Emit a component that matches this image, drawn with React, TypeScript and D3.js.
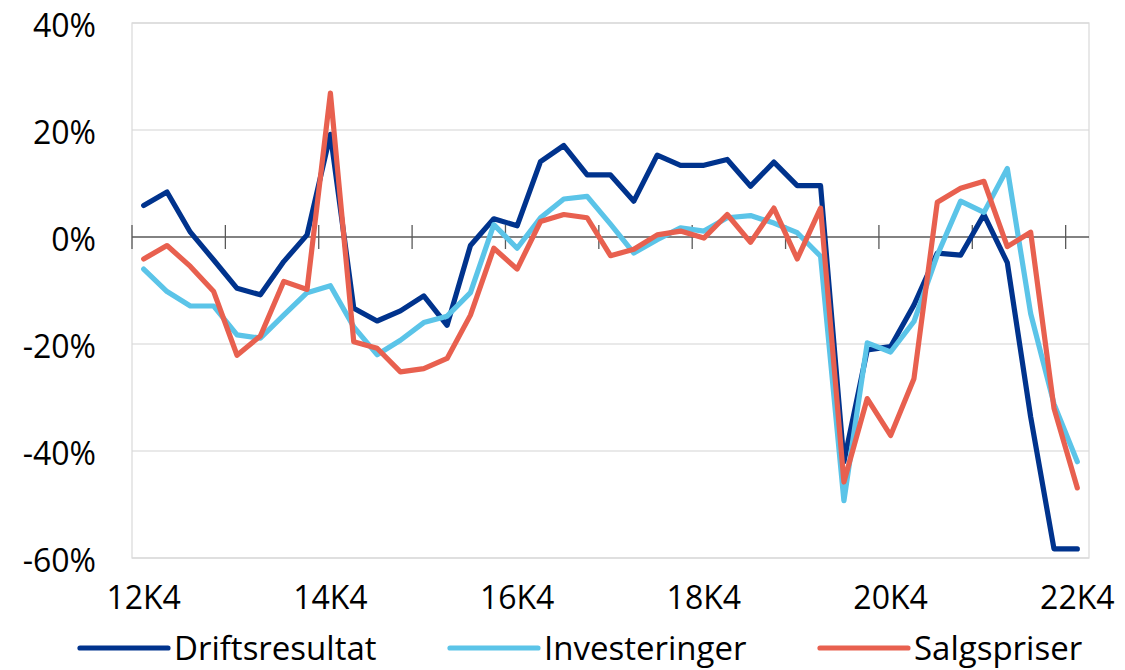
import React, { useEffect, useRef } from "react";
import * as d3 from "d3";

const quarters: string[] = [
  "12K4","13K1","13K2","13K3","13K4","14K1","14K2","14K3","14K4",
  "15K1","15K2","15K3","15K4","16K1","16K2","16K3","16K4",
  "17K1","17K2","17K3","17K4","18K1","18K2","18K3","18K4",
  "19K1","19K2","19K3","19K4","20K1","20K2","20K3","20K4",
  "21K1","21K2","21K3","21K4","22K1","22K2","22K3","22K4",
];

const driftsresultat: number[] = [
  5.9, 8.4, 0.9, -4.3, -9.6, -10.8, -4.6, 0.4, 19.2, -13.3,
  -15.7, -13.8, -11.0, -16.5, -1.6, 3.4, 2.1, 14.1, 17.1, 11.6,
  11.6, 6.7, 15.3, 13.4, 13.4, 14.5, 9.5, 14.0, 9.6, 9.6,
  -42.0, -21.1, -20.5, -12.7, -3.0, -3.4, 4.2, -4.8, -33.6, -58.3,
  -58.3,
];

const investeringer: number[] = [
  -6.0, -10.2, -12.9, -12.9, -18.3, -18.9, -14.6, -10.4, -9.1, -16.8,
  -22.0, -19.3, -16.0, -14.8, -10.4, 2.3, -2.1, 3.6, 7.1, 7.6,
  2.4, -3.0, -0.5, 1.7, 1.1, 3.6, 4.0, 2.6, 0.8, -3.6,
  -49.3, -19.8, -21.5, -15.8, -3.4, 6.7, 4.6, 12.8, -14.3, -31.2,
  -42.0,
];

const salgspriser: number[] = [
  -4.1, -1.6, -5.5, -10.2, -22.1, -18.5, -8.3, -9.8, 26.9, -19.6,
  -20.8, -25.2, -24.6, -22.7, -14.6, -2.1, -6.0, 2.9, 4.2, 3.6,
  -3.5, -2.3, 0.4, 1.1, -0.2, 4.2, -1.0, 5.4, -4.1, 5.4,
  -45.8, -30.2, -37.1, -26.5, 6.5, 9.1, 10.4, -1.8, 0.9, -32.0,
  -46.9,
];

const seriesNames: string[] = ["Driftsresultat", "Investeringer", "Salgspriser"];
const seriesColors: string[] = ["#00338D", "#5BC4E8", "#E8604F"];
const yTicks: number[] = [40, 20, 0, -20, -40, -60];
const xLabelEvery = 8;
const xTickEvery = 4;

const W = 1125;
const H = 670;
const FONT = "'Open Sans', 'Noto Sans', sans-serif";

export default function App() {
  const ref = useRef<SVGSVGElement>(null);

  useEffect(() => {
    const svg = d3.select(ref.current);
    svg.selectAll("*").remove();

    const left = 132, right = 1089, top = 23, bottom = 558;

    const x = d3.scaleBand<string>().domain(quarters).range([left, right]).paddingInner(0).paddingOuter(0);
    const y = d3.scaleLinear().domain([-60, 40]).range([bottom, top]);
    const cx = (q: string) => (x(q) as number) + x.bandwidth() / 2;

    // gridlines
    svg.append("g")
      .selectAll("line")
      .data(yTicks.filter((t) => t !== 0))
      .join("line")
      .attr("x1", left).attr("x2", right)
      .attr("y1", (d) => y(d)).attr("y2", (d) => y(d))
      .attr("stroke", "#d4d4d4").attr("stroke-width", 1.2);

    // plot border
    svg.append("rect")
      .attr("x", left).attr("y", top)
      .attr("width", right - left).attr("height", bottom - top)
      .attr("fill", "none").attr("stroke", "#d9d9d9").attr("stroke-width", 1.2);

    // zero axis
    svg.append("line")
      .attr("x1", left).attr("x2", right)
      .attr("y1", y(0)).attr("y2", y(0))
      .attr("stroke", "#595959").attr("stroke-width", 1.3);

    // tick marks on zero axis at category boundaries
    const tickIdx = d3.range(0, quarters.length, xTickEvery);
    svg.append("g")
      .selectAll("line")
      .data(tickIdx)
      .join("line")
      .attr("x1", (i) => x(quarters[i]) as number)
      .attr("x2", (i) => x(quarters[i]) as number)
      .attr("y1", y(0) - 12).attr("y2", y(0) + 12)
      .attr("stroke", "#595959").attr("stroke-width", 1.3);

    // y labels
    svg.append("g")
      .selectAll("text")
      .data(yTicks)
      .join("text")
      .attr("x", 96)
      .attr("y", (d) => y(d) + 2)
      .attr("dy", "0.36em")
      .attr("text-anchor", "end")
      .attr("font-family", FONT)
      .attr("font-size", 32)
      .attr("fill", "#000")
      .text((d) => `${d}%`);

    // x labels
    svg.append("g")
      .selectAll("text")
      .data(quarters.filter((_, i) => i % xLabelEvery === 0))
      .join("text")
      .attr("x", (q) => cx(q))
      .attr("y", 597)
      .attr("dy", "0.36em")
      .attr("text-anchor", "middle")
      .attr("font-family", FONT)
      .attr("font-size", 32)
      .attr("fill", "#000")
      .text((q) => q);

    // lines
    const allSeries = [driftsresultat, investeringer, salgspriser];
    const line = d3.line<number>()
      .x((_, i) => cx(quarters[i]))
      .y((d) => y(d));

    allSeries.forEach((vals, k) => {
      svg.append("path")
        .datum(vals)
        .attr("d", line)
        .attr("fill", "none")
        .attr("stroke", seriesColors[k])
        .attr("stroke-width", 5.2)
        .attr("stroke-linejoin", "round")
        .attr("stroke-linecap", "round");
    });

    // legend
    const legendX = [80, 450, 820];
    const legY = 648;
    seriesNames.forEach((name, k) => {
      const g = svg.append("g");
      g.append("line")
        .attr("x1", legendX[k]).attr("x2", legendX[k] + 88)
        .attr("y1", legY).attr("y2", legY)
        .attr("stroke", seriesColors[k]).attr("stroke-width", 5.2)
        .attr("stroke-linecap", "round");
      g.append("text")
        .attr("x", legendX[k] + 94)
        .attr("y", legY)
        .attr("dy", "0.36em")
        .attr("font-family", FONT)
        .attr("font-size", 33)
        .attr("fill", "#000")
        .text(name);
    });
  }, []);

  return (
    <svg ref={ref} width={W} height={H} style={{ display: "block", position: "absolute", left: 0, top: 0 }} />
  );
}
